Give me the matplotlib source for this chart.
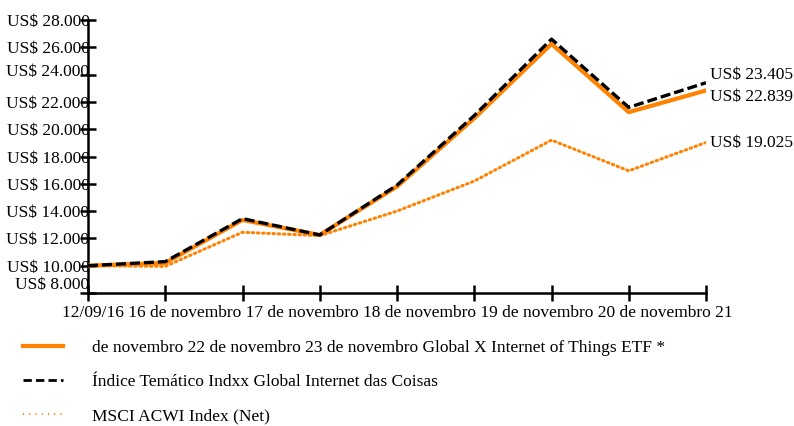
import matplotlib
matplotlib.use("Agg")
from matplotlib import pyplot as plt
from matplotlib.lines import Line2D
import matplotlib.transforms as mtransforms

# Data
X_POINTS = list(range(9))
ETF = [10000, 10200, 13350, 12250, 15800, 20800, 26250, 21250, 22839]
INDXX = [10000, 10300, 13450, 12250, 15900, 21000, 26600, 21600, 23405]
MSCI = [10000, 9950, 12450, 12200, 14000, 16200, 19200, 16950, 19025]

Y_TICKS = [8000, 10000, 12000, 14000, 16000, 18000, 20000, 22000, 24000, 26000, 28000]
Y_LABELS = ["US$ 8.000", "US$ 10.000", "US$ 12.000", "US$ 14.000", "US$ 16.000",
            "US$ 18.000", "US$ 20.000", "US$ 22.000", "US$ 24.000", "US$ 26.000", "US$ 28.000"]
END_LABELS = ["US$ 23.405", "US$ 22.839", "US$ 19.025"]
X_TEXT = "12/09/16 16 de novembro 17 de novembro 18 de novembro 19 de novembro 20 de novembro 21"
LEGEND_LABELS = [
    "de novembro 22 de novembro 23 de novembro Global X Internet of Things ETF *",
    "Índice Temático Indxx Global Internet das Coisas",
    "MSCI ACWI Index (Net)",
]

ORANGE = "#ff8200"
FONT = 12.5

plt.rcParams["font.family"] = ["Liberation Serif", "DejaVu Serif"]
plt.rcParams["font.size"] = FONT

fig = plt.figure(figsize=(7.94, 4.26), dpi=100)
ax = fig.add_axes([88 / 794, 1 - 293 / 426, (706 - 88) / 794, (293 - 20) / 426])

ax.plot(X_POINTS, MSCI, color=ORANGE, lw=2.2, ls=(0, (0.5, 1.2)), dash_capstyle="round", zorder=2)
ax.plot(X_POINTS, ETF, color=ORANGE, lw=3, zorder=3)
ax.plot(X_POINTS, INDXX, color="black", lw=2.4, ls=(0, (3, 1.2)), zorder=4)

ax.set_xlim(0, 8)
ax.set_ylim(8000, 28000)
ax.set_xticks(X_POINTS)
ax.set_xticklabels([])
ax.set_yticks(Y_TICKS)
ax.set_yticklabels(Y_LABELS)
for side in ("top", "right"):
    ax.spines[side].set_visible(False)
ax.spines["left"].set_linewidth(1.8)
ax.spines["bottom"].set_linewidth(1.8)
ax.tick_params(axis="y", direction="inout", length=12, width=1.8, pad=-7)
ax.tick_params(axis="x", direction="inout", length=12, width=1.8)

# quirky label offsets seen in the reference
labels = ax.get_yticklabels()
shifts = {0: 10, 8: 5}
for i, dy in shifts.items():
    off = mtransforms.ScaledTranslation(0, dy / 100, fig.dpi_scale_trans)
    labels[i].set_transform(labels[i].get_transform() + off)

ax.text(0.5, -0.045, X_TEXT, transform=ax.transAxes, ha="center", va="top")

ax.text(8.05, INDXX[-1] + 600, END_LABELS[0], va="center", ha="left", clip_on=False)
ax.text(8.05, ETF[-1] - 500, END_LABELS[1], va="center", ha="left", clip_on=False)
ax.text(8.05, MSCI[-1], END_LABELS[2], va="center", ha="left", clip_on=False)

handles = [
    Line2D([], [], color=ORANGE, lw=3),
    Line2D([], [], color="black", lw=2, ls=(0, (3, 1.5))),
    Line2D([], [], color=ORANGE, lw=1.5, ls=(0, (0.5, 2.5))),
]
fig.legend(handles, LEGEND_LABELS, loc="upper left", bbox_to_anchor=(7 / 794, 1 - 324 / 426),
           frameon=False, handlelength=2.3, handletextpad=1.7, labelspacing=1.05,
           fontsize=FONT)

fig.savefig("out.png", dpi=100)
